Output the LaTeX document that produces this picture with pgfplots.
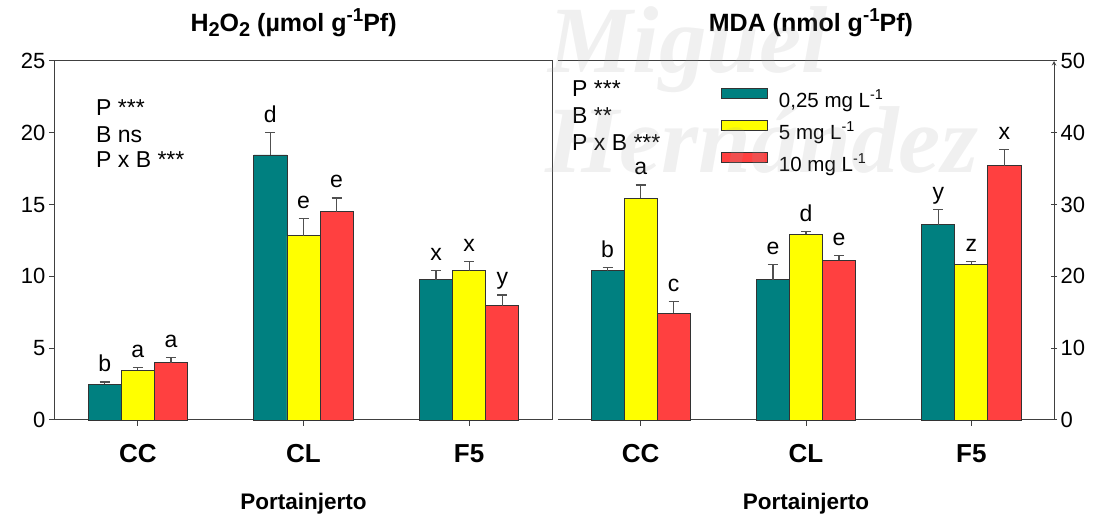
\documentclass[border=0pt]{standalone}
\usepackage{fontspec}
\setmainfont{Liberation Sans}
\newfontfamily\markfont{Liberation Serif}
\usepackage{graphicx}
\usepackage{pgfplots}
\pgfplotsset{compat=1.18}

\definecolor{dose1}{RGB}{0,128,128}
\definecolor{dose2}{RGB}{255,255,0}
\definecolor{dose3}{RGB}{255,64,64}
\definecolor{framegray}{RGB}{64,64,64}
\definecolor{whisker}{RGB}{80,80,80}

\newcommand{\fs}[1]{\fontsize{#1}{#1}\selectfont}
% large sub- and superscripts, as in the unit labels
\newcommand{\dn}[1]{\raisebox{-0.17em}{\scalebox{0.8}{#1}}}
\newcommand{\up}[1]{\raisebox{0.42em}{\scalebox{0.75}{#1}}}

\tikzset{stat/.style={anchor=base west, font=\fs{23}, inner sep=0pt}}

\pgfplotsset{
  panel/.style={
    scale only axis, height=359pt,
    xmin=-0.5, xmax=2.5, ymin=0,
    xtick={0,1,2}, xticklabels={CC,CL,F5},
    tick align=outside, major tick length=6pt,
    axis line style={framegray, line width=1pt},
    every tick/.append style={framegray, line width=1pt},
    /pgf/number format/assume math mode=true,
    xticklabel style={font=\bfseries\fs{26}, anchor=base, yshift=-37pt},
    yticklabel style={font=\fs{22}},
    xlabel={Portainjerto},
    xlabel style={font=\bfseries\fs{22.5}, at={(axis description cs:0.5,0)}, anchor=base, yshift=-90pt},
    title style={font=\bfseries\fs{25}, anchor=base, yshift=23pt},
    clip=false,
  },
  bars/.style={
    ybar, bar width=0.2, bar shift=0pt,
    fill=#1, draw=black!80, line width=0.8pt,
    error bars/y dir=plus, error bars/y explicit,
    error bars/error bar style={whisker, line width=1.2pt},
    error bars/error mark options={whisker, line width=1.2pt, mark size=5pt, rotate=90},
    legend image code/.code={
      \path[draw=none, fill=none] (0pt,-12pt) rectangle (46pt,12pt);
      \draw[##1] (0pt,1pt) rectangle (46pt,11pt);},
  },
  letters/.style={
    only marks, mark=none, forget plot,
    nodes near coords, point meta=explicit symbolic,
    every node near coord/.append style={anchor=base, yshift=10pt, font=\fs{23}, text=black, inner sep=0pt},
  },
}

\begin{document}
\begin{tikzpicture}
\useasboundingbox (0pt,0pt) rectangle (1101pt,516pt);

% H2O2 panel
\begin{axis}[panel, at={(55pt,96pt)}, anchor=south west, width=497pt,
  ymax=25, ytick={0,5,...,25}, xtick pos=left, ytick pos=left,
  title={H\dn{2}O\dn{2} (µmol g\up{-1}Pf)},
  title style={at={(0.48,1)}}]
\addplot[bars=dose1] coordinates {(-0.2,2.49) +- (0,0.16) (0.8,18.46) +- (0,1.58) (1.8,9.76) +- (0,0.65)};
\addplot[bars=dose2] coordinates {(0,3.47) +- (0,0.16) (1,12.83) +- (0,1.21) (2,10.39) +- (0,0.65)};
\addplot[bars=dose3] coordinates {(0.2,4.00) +- (0,0.35) (1.2,14.51) +- (0,0.95) (2.2,7.96) +- (0,0.75)};
\addplot[letters] coordinates {(-0.2,2.65) [b] (0,3.63) [a] (0.2,4.35) [a]
  (0.8,20.04) [d] (1,14.04) [e] (1.2,15.46) [e]
  (1.8,10.41) [x] (2,11.04) [x] (2.2,8.71) [y]};
\node[stat] at (axis description cs:0.0825,0.847) {P ***};
\node[stat] at (axis description cs:0.0825,0.774) {B ns};
\node[stat] at (axis description cs:0.0825,0.702) {P x B ***};
\end{axis}

% MDA panel
\begin{axis}[panel, at={(558pt,96pt)}, anchor=south west, width=496pt,
  ymax=50, ytick={0,10,...,50},
  axis x line*=box, axis y line=right, xtick pos=left, ytick pos=right,
  title={MDA (nmol g\up{-1}Pf)},
  title style={at={(0.51,1)}},
  legend style={at={(axis description cs:0.3286,0.9276)}, anchor=north west,
    draw=none, fill=none, font=\fs{20.5}, inner sep=0pt,
    nodes={inner sep=0pt}, column sep=11pt, row sep=8pt},
  legend cell align=left]
\addplot[bars=dose1] coordinates {(-0.2,20.82) +- (0,0.42) (0.8,19.52) +- (0,2.14) (1.8,27.2) +- (0,2.14)};
\addlegendentry{0,25 mg L\textsuperscript{-1}}
\addplot[bars=dose2] coordinates {(0,30.88) +- (0,1.86) (1,25.85) +- (0,0.37) (2,21.7) +- (0,0.33)};
\addlegendentry{5 mg L\textsuperscript{-1}}
\addplot[bars=dose3] coordinates {(0.2,14.9) +- (0,1.63) (1.2,22.22) +- (0,0.7) (2.2,35.42) +- (0,2.29)};
\addlegendentry{10 mg L\textsuperscript{-1}}
\addplot[letters] coordinates {(-0.2,21.24) [b] (0,32.74) [a] (0.2,16.53) [c]
  (0.8,21.66) [e] (1,26.22) [d] (1.2,22.92) [e]
  (1.8,29.34) [y] (2,22.03) [z] (2.2,37.71) [x]};
\node[stat] at (axis description cs:0.0282,0.900) {P ***};
\node[stat] at (axis description cs:0.0282,0.827) {B **};
\node[stat] at (axis description cs:0.0282,0.752) {P x B ***};
\end{axis}

% faint institutional watermark
\begin{scope}[every node/.style={anchor=base west, inner sep=0pt,
    font=\markfont\bfseries\itshape\fs{95}, text=black!36, text opacity=0.16}]
\node at (548pt,443pt) {Miguel};
\node at (545pt,343pt) {Hernández};
\end{scope}
\end{tikzpicture}
\end{document}
